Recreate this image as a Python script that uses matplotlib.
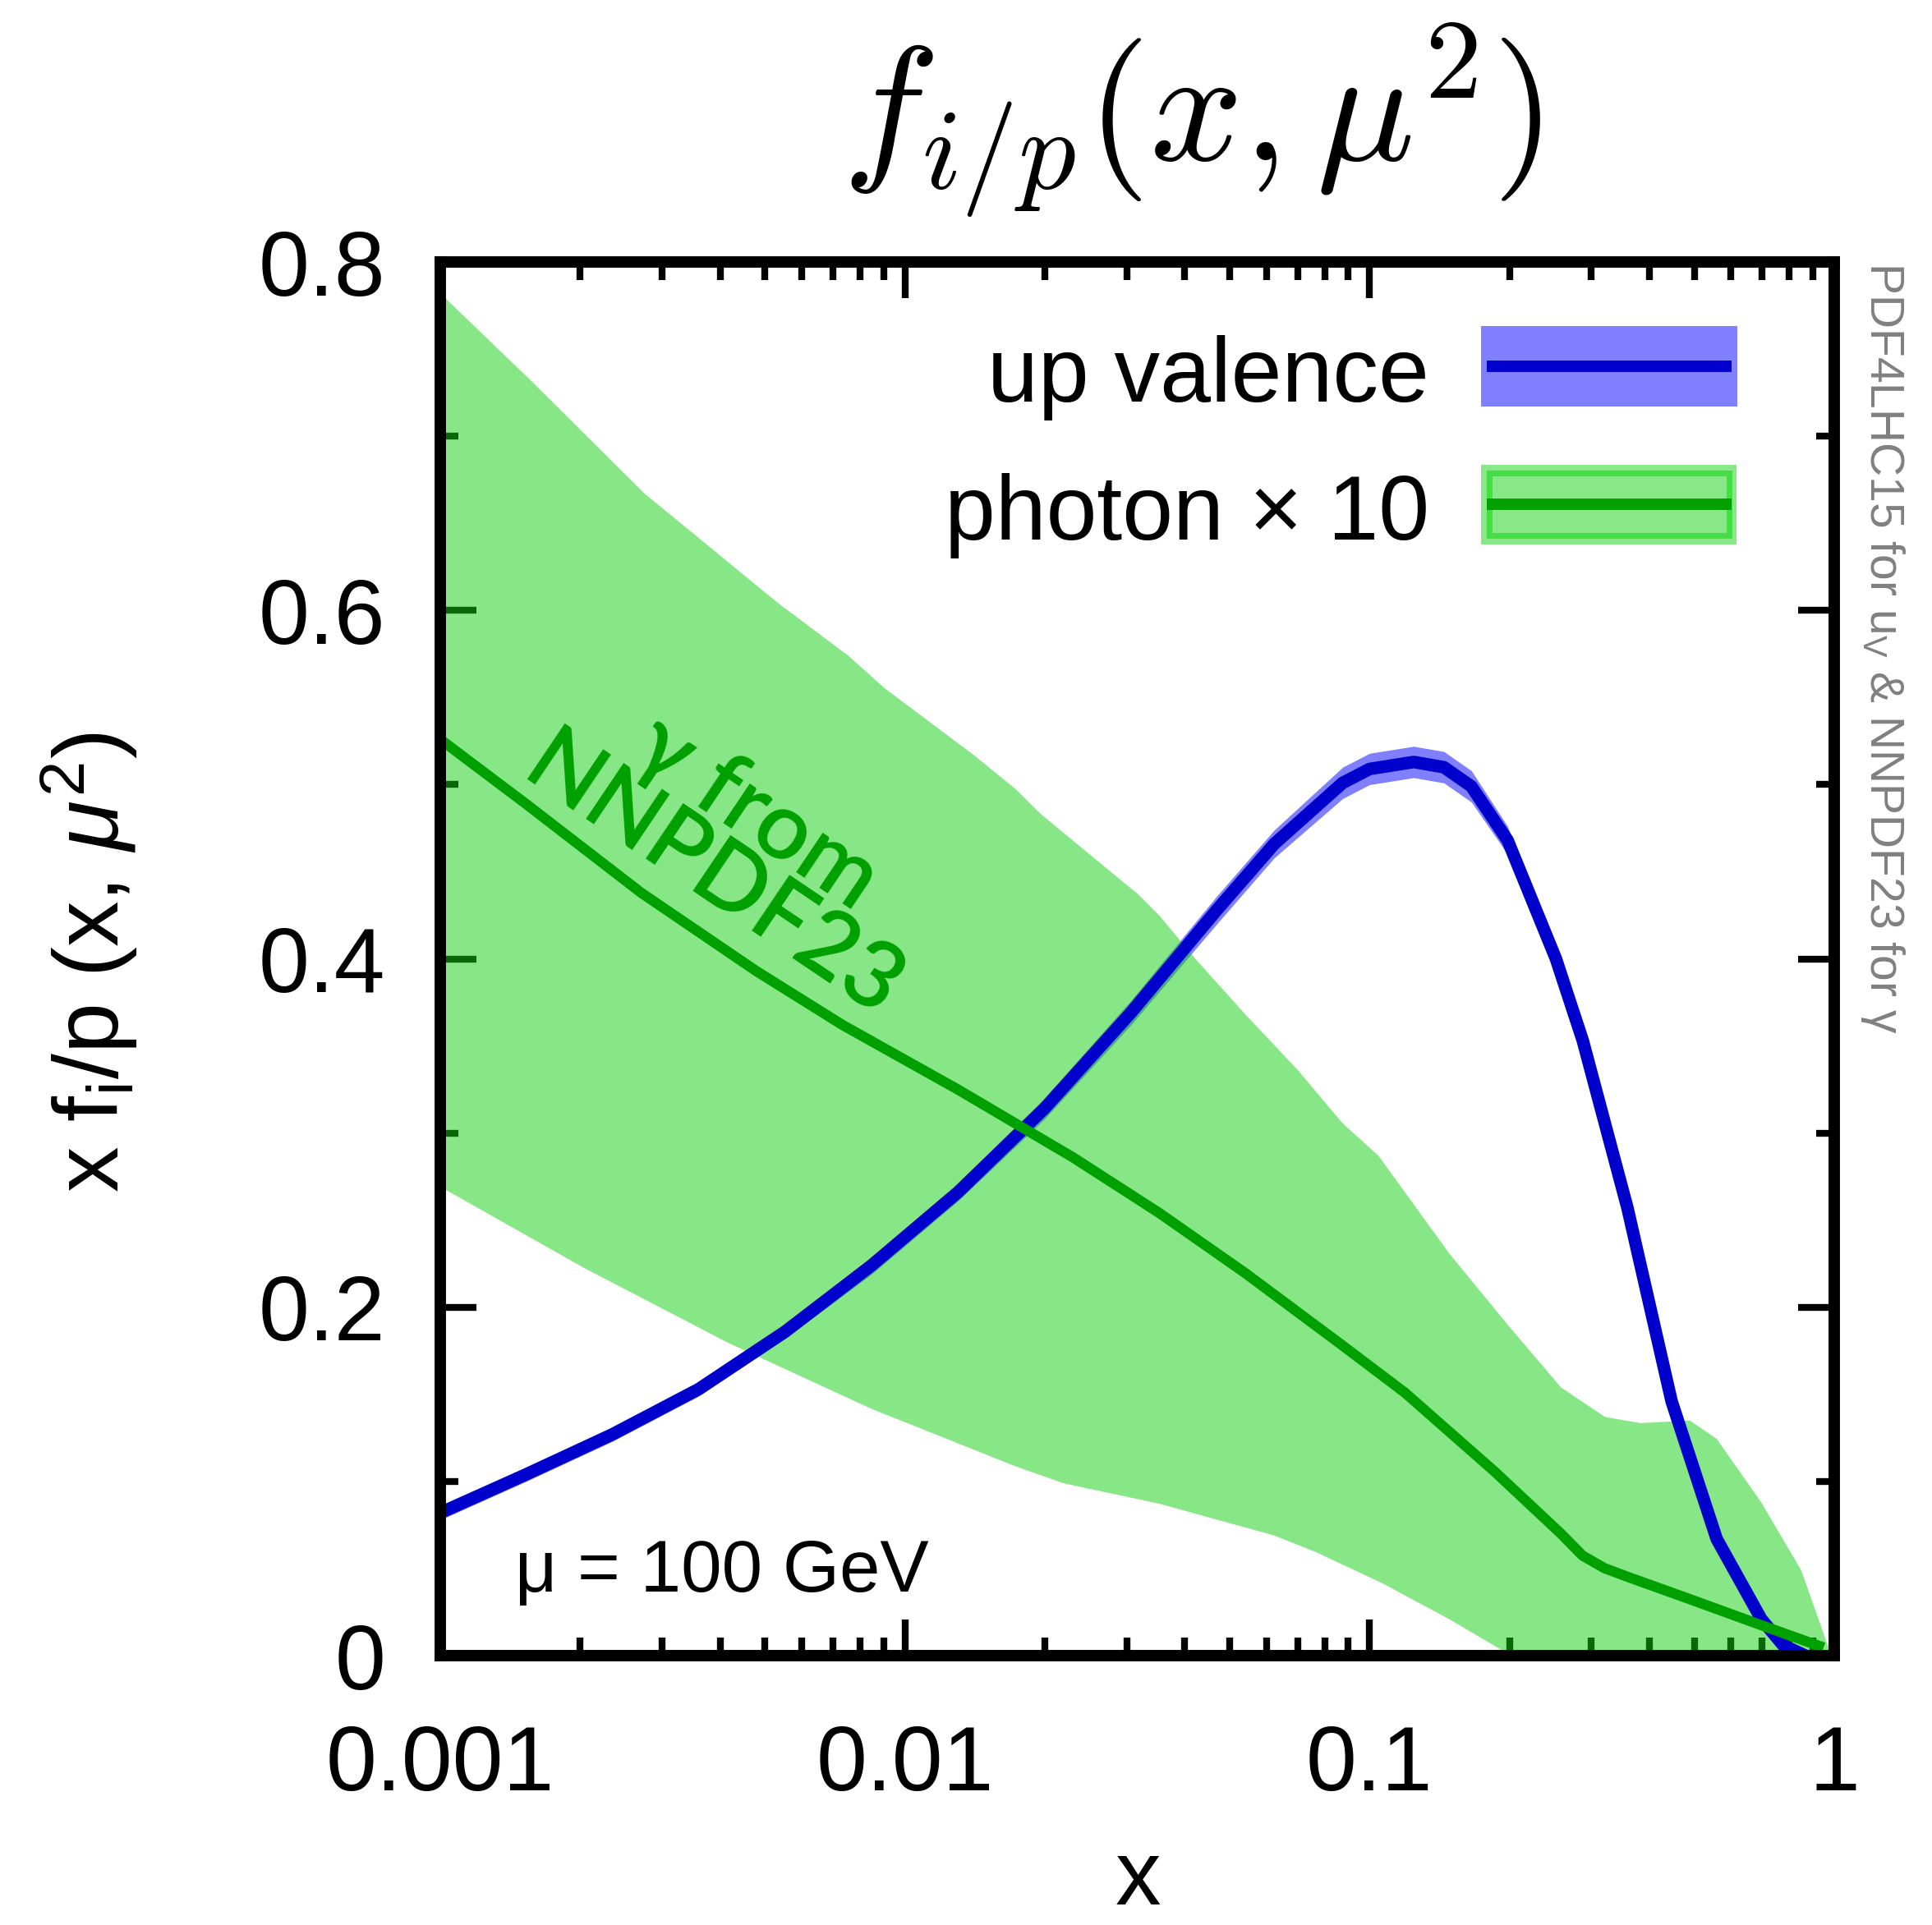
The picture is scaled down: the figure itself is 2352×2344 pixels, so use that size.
import numpy as np
import matplotlib
matplotlib.use("Agg")
import matplotlib.pyplot as plt
from matplotlib.patches import Rectangle
from matplotlib.ticker import LogLocator, NullFormatter, MultipleLocator

plt.rcParams['font.family'] = ['Liberation Sans', 'DejaVu Sans']
plt.rcParams['mathtext.fontset'] = 'custom'
plt.rcParams['mathtext.rm'] = 'Liberation Sans'
plt.rcParams['mathtext.it'] = 'Liberation Sans:italic'

# up valence (PDF4LHC15): central value and half-width of the band
uv_x = [0.001, 0.001528, 0.002344, 0.003597, 0.005521, 0.008472, 0.013, 0.01995,
        0.03062, 0.04688, 0.06237, 0.0875, 0.100, 0.1245, 0.1445, 0.1656, 0.1982,
        0.2518, 0.2877, 0.3589, 0.4467, 0.5585, 0.6966, 0.7763, 0.867]
uv_val = [0.082, 0.104, 0.127, 0.153, 0.186, 0.224, 0.266, 0.314,
          0.369, 0.428, 0.466, 0.501, 0.509, 0.513, 0.510, 0.499, 0.468,
          0.400, 0.353, 0.257, 0.146, 0.067, 0.021, 0.006, 0.0]
uv_err = [0.004, 0.004, 0.004, 0.004, 0.004, 0.005, 0.005, 0.006,
          0.007, 0.008, 0.008, 0.009, 0.009, 0.009, 0.009, 0.009, 0.008,
          0.006, 0.005, 0.004, 0.003, 0.003, 0.002, 0.002, 0.001]

# photon x 10 (NNPDF23): central line
ph_x = [0.001, 0.001528, 0.002704, 0.004786, 0.007345, 0.013, 0.02301, 0.03532,
        0.05408, 0.0875, 0.1191, 0.1858, 0.2582, 0.2871, 0.3199, 0.3589, 0.4989,
        0.6966, 0.9484]
ph_val = [0.526, 0.489, 0.438, 0.393, 0.362, 0.325, 0.286, 0.254,
          0.2195, 0.178, 0.151, 0.1057, 0.070, 0.0575, 0.0503, 0.0453, 0.0316,
          0.0175, 0.0047]

# photon band: upper and lower edges
ph_up_x = [0.001, 0.001552, 0.002754, 0.005346, 0.007551, 0.009078, 0.01406, 0.0173,
           0.01963, 0.03177, 0.03532, 0.04217, 0.05408, 0.07015, 0.0875, 0.1045,
           0.1483, 0.1982, 0.2582, 0.3214, 0.3828, 0.4887, 0.5585, 0.6966, 0.8492,
           0.9683, 1.0]
ph_up = [0.782, 0.733, 0.667, 0.604, 0.574, 0.555, 0.517, 0.4975,
         0.483, 0.437, 0.4247, 0.400, 0.368, 0.336, 0.3056, 0.287,
         0.231, 0.190, 0.154, 0.137, 0.1335, 0.135, 0.1245, 0.088, 0.049,
         0.006, 0.0]
ph_lo_x = [0.001, 0.002032, 0.00415, 0.008472, 0.0173, 0.02193, 0.03532, 0.06237,
           0.07674, 0.1067, 0.1483, 0.1932, 0.1995, 1.0]
ph_lo = [0.2692, 0.2228, 0.1798, 0.1417, 0.1087, 0.099, 0.0872, 0.069,
         0.0594, 0.0415, 0.021, 0.003, 0.0, 0.0]

x_ticks = [0.001, 0.01, 0.1, 1]
x_ticklabels = ['0.001', '0.01', '0.1', '1']
y_ticks = [0, 0.2, 0.4, 0.6, 0.8]
y_ticklabels = ['0', '0.2', '0.4', '0.6', '0.8']

blue_band = '#8080ff'
blue_line = '#0000cc'
green_fill = '#11d111'
green_band_key = '#88e888'
green_edge = '#44dd44'
green_line = '#00a000'

fig = plt.figure(figsize=(23.52, 23.44), dpi=100)
ax = fig.add_axes([0.2279, 0.1399, 0.7215, 0.7240])
ax.set_axisbelow(True)

uv_val_a = np.array(uv_val)
uv_err_a = np.array(uv_err)
ax.fill_between(uv_x, uv_val_a - uv_err_a, uv_val_a + uv_err_a,
                color=blue_band, lw=0, zorder=1.0)
ax.fill(np.r_[ph_up_x, ph_lo_x[::-1]], np.r_[ph_up, ph_lo[::-1]],
        color=green_fill, alpha=0.5, lw=0, zorder=1.1)
ax.plot(uv_x, uv_val, color=blue_line, lw=11, zorder=2.0,
        solid_capstyle='butt', solid_joinstyle='round')
ax.plot(ph_x, ph_val, color=green_line, lw=9, zorder=2.1,
        solid_capstyle='butt', solid_joinstyle='round')

ax.set_xscale('log')
ax.set_xlim(0.001, 1)
ax.set_ylim(0, 0.8)
ax.set_xticks(x_ticks)
ax.set_xticklabels(x_ticklabels)
ax.xaxis.set_minor_locator(LogLocator(base=10, subs=np.arange(2, 10)))
ax.xaxis.set_minor_formatter(NullFormatter())
ax.set_yticks(y_ticks)
ax.set_yticklabels(y_ticklabels)
ax.yaxis.set_minor_locator(MultipleLocator(0.1))

ax.tick_params(which='both', direction='in', top=True, right=True, width=6,
               labelsize=80)
ax.tick_params(which='major', length=32)
ax.tick_params(which='minor', length=16)
ax.tick_params(axis='x', pad=60)
ax.tick_params(axis='y', pad=48)
for s in ax.spines.values():
    s.set_linewidth(10)

# legend keys, drawn in axes coordinates
key_kw = dict(transform=ax.transAxes, zorder=3, clip_on=False)
ax.add_patch(Rectangle((0.7466, 0.8963), 0.1839, 0.0577, fc=blue_band, ec='none', **key_kw))
ax.plot([0.7507, 0.9263], [0.9252, 0.9252], color=blue_line, lw=10,
        solid_capstyle='butt', **key_kw)
ax.add_patch(Rectangle((0.7466, 0.7973), 0.1833, 0.0572, fc=green_band_key, ec='none', **key_kw))
ax.add_patch(Rectangle((0.7528, 0.8035), 0.1715, 0.0448, fc='none', ec=green_edge, lw=5, **key_kw))
ax.plot([0.7507, 0.9263], [0.8262, 0.8262], color=green_line, lw=10,
        solid_capstyle='butt', **key_kw)
ax.text(0.7095, 0.8998, 'up valence', transform=ax.transAxes, fontsize=80,
        ha='right', va='baseline')
ax.text(0.7095, 0.8008, 'photon × 10', transform=ax.transAxes, fontsize=80,
        ha='right', va='baseline')

ax.text(0.0536, 0.046, 'μ = 100 GeV', transform=ax.transAxes,
        fontsize=64, ha='left', va='baseline')

ax.text(0.0043, 0.465, 'γ from\nNNPDF23', color=green_line, fontsize=82,
        fontweight='semibold', rotation=-34, rotation_mode='anchor',
        ha='center', va='center', multialignment='center', linespacing=0.9,
        family=['Lato', 'DejaVu Sans'])

# title and axis labels
fig.text(0.617, 0.9164, r'$f_{i/p}(x,\mu^2)$', math_fontfamily='cm',
         fontsize=143, ha='center', va='baseline')
fig.text(0.046, 0.5, r'x f$_\mathrm{i}$/p (x, $\mu^2$)', rotation=90,
         fontsize=80, ha='center', va='center')
fig.text(0.589, 0.0105, 'x', fontsize=80, ha='center', va='baseline')
fig.text(0.9745, 0.8639, r'PDF4LHC15 for u$_\mathrm{V}$ & NNPDF23 for γ',
         rotation=-90, ha='center', va='top', color='#808080', fontsize=41)

fig.savefig('out.png', dpi=100)
